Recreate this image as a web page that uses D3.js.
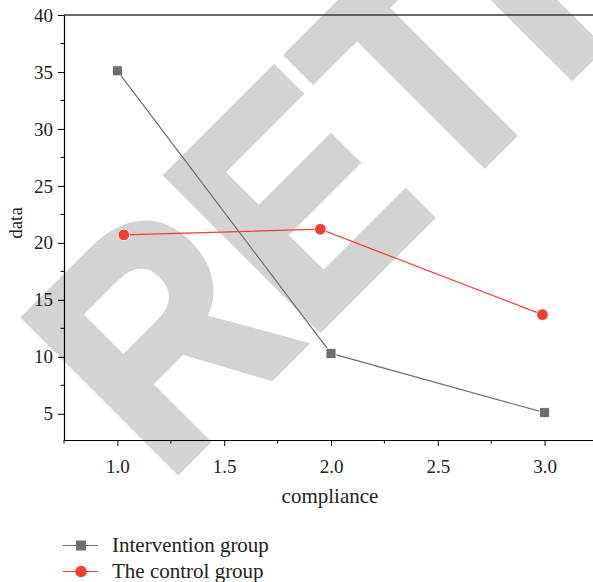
<!DOCTYPE html>
<html><head><meta charset="utf-8">
<script src="https://cdn.jsdelivr.net/npm/d3@7"></script>
<style>body{margin:0;background:#fff}svg{display:block}</style>
</head><body>
<svg id="c" width="593" height="582"></svg>
<script>
const interventionX = [1.0, 2.0, 3.0];
const interventionY = [35.1, 10.3, 5.1];
const controlX = [1.03, 1.95, 2.99];
const controlY = [20.7, 21.2, 13.7];
const xTicks = [1.0, 1.5, 2.0, 2.5, 3.0];
const yTicks = [5, 10, 15, 20, 25, 30, 35, 40];
const seriesNames = ["Intervention group", "The control group"];
const watermark = "RETRACTED";

const svg = d3.select("#c");
const font = "'Liberation Serif', 'Times New Roman', serif";
const L = 64, R = 598, T = 15, B = 440;
const x = d3.scaleLinear().domain([0.75, 3.25]).range([L, R]);
const y = d3.scaleLinear().domain([2.7, 40]).range([B, T]);

// watermark
svg.append("g").attr("transform", "translate(176,472) rotate(-45) scale(0.89,1)")
  .append("text").attr("x", -18)
  .attr("font-family", "'Liberation Sans', Arial, sans-serif").attr("font-weight", "bold")
  .attr("font-size", 313).attr("fill", "#d3d3d3")
  .attr("stroke", "#d3d3d3").attr("stroke-width", 8).attr("stroke-linejoin", "miter")
  .text(watermark);

// top frame line
svg.append("line").attr("x1", L).attr("x2", 593).attr("y1", T).attr("y2", T)
  .attr("stroke", "#3a3a3a").attr("stroke-width", 1.6);

// x axis
const xAxis = svg.append("g").attr("transform", `translate(0,${B})`)
  .call(d3.axisBottom(x).tickValues(xTicks).tickFormat(d3.format(".1f")).tickSize(6).tickSizeOuter(0));
xAxis.append("g").selectAll("line").data([0.75, 1.25, 1.75, 2.25, 2.75, 3.25]).join("line")
  .attr("x1", d => x(d)).attr("x2", d => x(d)).attr("y1", 0).attr("y2", 3.5).attr("stroke", "#000");
// y axis
const yAxis = svg.append("g").attr("transform", `translate(${L},0)`)
  .call(d3.axisLeft(y).tickValues(yTicks).tickSize(6).tickSizeOuter(0));
yAxis.append("g").selectAll("line").data([7.5, 12.5, 17.5, 22.5, 27.5, 32.5, 37.5]).join("line")
  .attr("x1", 0).attr("x2", -3.5).attr("y1", d => y(d)).attr("y2", d => y(d)).attr("stroke", "#000");
[xAxis, yAxis].forEach(a => {
  a.select(".domain").attr("stroke", "#000").attr("stroke-width", 1.2);
  a.selectAll(".tick line").attr("stroke", "#000");
  a.selectAll("text").attr("font-family", font).attr("font-size", 19).attr("fill", "#222");
});
xAxis.selectAll(".tick text").attr("dy", "1.25em");
yAxis.selectAll(".tick text").attr("dx", "-0.1em");

svg.append("text").attr("x", 330).attr("y", 503).attr("text-anchor", "middle")
  .attr("font-family", font).attr("font-size", 21).attr("fill", "#222").text("compliance");
svg.append("text").attr("transform", "translate(22,223) rotate(-90)").attr("text-anchor", "middle")
  .attr("font-family", font).attr("font-size", 19).attr("fill", "#222").text("data");

const gray = "#6d6e71", red = "#ee4035";
const line = d3.line().x(d => x(d[0])).y(d => y(d[1]));
const iData = interventionX.map((v, i) => [v, interventionY[i]]);
const cData = controlX.map((v, i) => [v, controlY[i]]);
svg.append("path").datum(iData).attr("d", line).attr("fill", "none").attr("stroke", gray).attr("stroke-width", 1.2);
svg.append("path").datum(cData).attr("d", line).attr("fill", "none").attr("stroke", red).attr("stroke-width", 1.2);
svg.selectAll(".sq").data(iData).join("rect").attr("x", d => x(d[0]) - 5).attr("y", d => y(d[1]) - 5)
  .attr("width", 10).attr("height", 10).attr("fill", gray).attr("stroke", "#fff").attr("stroke-width", 0.8);
svg.selectAll(".ci").data(cData).join("circle").attr("cx", d => x(d[0])).attr("cy", d => y(d[1]))
  .attr("r", 5.8).attr("fill", red).attr("stroke", "#fff").attr("stroke-width", 0.8);

// legend
const lg = svg.append("g");
[[gray, "rect"], [red, "circle"]].forEach(([c, m], i) => {
  const yy = 545.5 + i * 26;
  lg.append("line").attr("x1", 63).attr("x2", 98).attr("y1", yy).attr("y2", yy).attr("stroke", c).attr("stroke-width", 1.2);
  if (m === "rect") lg.append("rect").attr("x", 76).attr("y", yy - 5).attr("width", 10).attr("height", 10).attr("fill", c);
  else lg.append("circle").attr("cx", 81).attr("cy", yy).attr("r", 5.8).attr("fill", c);
  lg.append("text").attr("x", 112).attr("y", yy + 6.5).attr("font-family", font).attr("font-size", 21)
    .attr("fill", "#222").text(seriesNames[i]);
});
</script>
</body></html>
